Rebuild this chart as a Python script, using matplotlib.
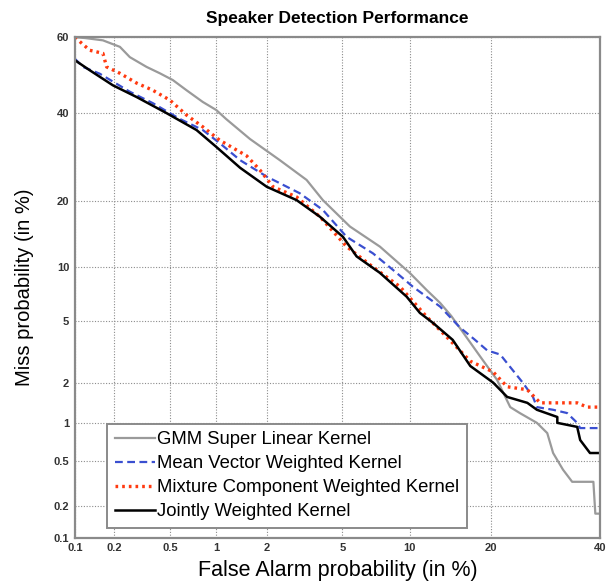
"""DET plot: speaker detection performance of four SVM kernels (normal-deviate axes)."""
from statistics import NormalDist
import numpy as np
import matplotlib
matplotlib.use("Agg")
import matplotlib.pyplot as plt

plt.rcParams.update({
    "font.family": ["Liberation Sans", "DejaVu Sans"],
    "figure.dpi": 100,
})

# ----------------------------------------------------------------------------- #
# Data (false alarm %, miss %)
# ----------------------------------------------------------------------------- #
gmm_fa = [0.10, 0.12, 0.165, 0.221, 0.261, 0.344, 0.426, 0.522, 0.644, 0.822, 1.00,
          1.15, 1.60, 2.37, 3.30, 4.00, 5.43, 7.46, 10.0, 11.7, 13.2, 14.5, 16.0,
          18.4, 20.9, 23.0, 24.6, 27.6, 29.5, 30.6, 32.5, 34.3, 38.6, 39.0, 40.0]
gmm_miss = [60.0, 59.8, 59.2, 57.5, 54.8, 52.2, 50.5, 48.7, 46.0, 42.9, 40.8,
            38.5, 33.5, 28.5, 24.2, 20.2, 15.6, 12.6, 9.33, 7.56, 6.40, 5.4, 4.3,
            3.0, 2.09, 1.33, 1.20, 1.01, 0.84, 0.58, 0.42, 0.33, 0.33, 0.17, 0.17]

mean_fa = [0.10, 0.116, 0.156, 0.261, 0.380, 0.582, 0.822, 1.05, 1.40, 2.00, 3.04,
           4.00, 5.24, 6.94, 8.81, 10.3, 13.2, 15.6, 17.5, 19.4, 21.4, 23.0, 25.1,
           26.9, 27.6, 30.6, 33.3, 35.3, 35.9, 40.0]
mean_miss = [54.4, 52.2, 50.4, 45.6, 42.6, 38.5, 35.7, 32.5, 28.5, 24.9, 21.5,
             18.4, 14.0, 11.7, 9.33, 7.88, 6.10, 4.6, 3.9, 3.3, 3.1, 2.56, 2.0,
             1.58, 1.33, 1.27, 1.20, 1.01, 0.92, 0.92]

mix_fa = [0.10, 0.131, 0.165, 0.176, 0.221, 0.292, 0.380, 0.498, 0.644, 0.822, 1.05,
          1.53, 1.83, 2.17, 2.92, 3.87, 5.24, 6.94, 9.11, 11.7, 14.0, 17.0, 20.3,
          22.5, 25.9, 28.2, 35.3, 37.3, 40.0]
mix_miss = [60.0, 56.6, 55.8, 52.2, 50.5, 47.9, 46.0, 43.4, 39.5, 36.5, 33.2,
            29.5, 26.3, 22.8, 20.8, 17.2, 12.6, 10.0, 7.88, 5.33, 4.0, 2.8, 2.37,
            1.87, 1.78, 1.43, 1.43, 1.33, 1.33]

joint_fa = [0.10, 0.131, 0.196, 0.292, 0.473, 0.749, 1.00, 1.40, 2.00, 2.92, 3.87,
            5.03, 5.84, 7.46, 9.71, 11.0, 12.4, 14.7, 17.0, 20.3, 22.5, 25.9,
            27.6, 31.4, 31.4, 35.3, 35.9, 37.9, 40.0]
joint_miss = [54.0, 51.3, 47.3, 44.2, 40.0, 35.7, 31.6, 26.8, 22.8, 20.2, 17.2,
              14.0, 11.3, 9.33, 6.95, 5.61, 4.89, 3.85, 2.6, 2.0, 1.58, 1.43,
              1.27, 1.12, 1.01, 0.94, 0.74, 0.58, 0.58]

tick_vals = [0.1, 0.2, 0.5, 1, 2, 5, 10, 20, 40]
ytick_vals = [0.1, 0.2, 0.5, 1, 2, 5, 10, 20, 40, 60]
labels = ["GMM Super Linear Kernel", "Mean Vector Weighted Kernel",
          "Mixture Component Weighted Kernel", "Jointly Weighted Kernel"]

# ----------------------------------------------------------------------------- #
# Normal-deviate scale
# ----------------------------------------------------------------------------- #
_nd = NormalDist()
_ppf = np.vectorize(_nd.inv_cdf, otypes=[float])
_cdf = np.vectorize(_nd.cdf, otypes=[float])


def probit(v):
    v = np.clip(np.asarray(v, dtype=float) / 100.0, 1e-9, 1 - 1e-9)
    return _ppf(v)


def inv_probit(v):
    return _cdf(np.asarray(v, dtype=float)) * 100.0


fig = plt.figure(figsize=(6.13, 5.82))
ax = fig.add_axes([0.122, 0.076, 0.857, 0.860])
ax.set_xscale("function", functions=(probit, inv_probit))
ax.set_yscale("function", functions=(probit, inv_probit))

ax.plot(gmm_fa, gmm_miss, color="#9a9a9a", lw=1.6, label=labels[0])
ax.plot(mean_fa, mean_miss, color="#3a4fd0", lw=1.6, ls=(0, (3.5, 2)), label=labels[1])
ax.plot(mix_fa, mix_miss, color="#ff3a10", lw=2.4, ls=(0, (0.8, 1.2)), label=labels[2])
ax.plot(joint_fa, joint_miss, color="black", lw=1.8, label=labels[3])

ax.set_xlim(0.1, 40)
ax.set_ylim(0.1, 60)
ax.set_xticks(tick_vals)
ax.set_xticklabels([f"{v:g}" for v in tick_vals])
ax.set_yticks(ytick_vals)
ax.set_yticklabels([f"{v:g}" for v in ytick_vals])
ax.minorticks_off()
ax.tick_params(length=0, labelsize=8, pad=4)
for t in ax.get_xticklabels() + ax.get_yticklabels():
    t.set_fontweight("bold")
    t.set_color("#333333")
ax.grid(True, color="#8c8c8c", ls=(0, (1, 1.5)), lw=0.8)

for s in ax.spines.values():
    s.set_color("#8a8a8a")
    s.set_linewidth(1.6)

ax.set_title("Speaker Detection Performance", fontsize=12.5, fontweight="bold", pad=10)
ax.set_xlabel("False Alarm probability (in %)", fontsize=15.5, labelpad=5)
ax.set_ylabel("Miss probability (in %)", fontsize=14.5, labelpad=14)

leg = ax.legend(loc="lower left", bbox_to_anchor=(0.062, 0.02), borderaxespad=0,
                fontsize=13.3, fancybox=False, framealpha=1, handlelength=2.2,
                handletextpad=0.1, borderpad=0.4, labelspacing=0.38)
leg.get_frame().set_edgecolor("#8a8a8a")
leg.get_frame().set_linewidth(1.4)

fig.savefig("out.png", dpi=100)
